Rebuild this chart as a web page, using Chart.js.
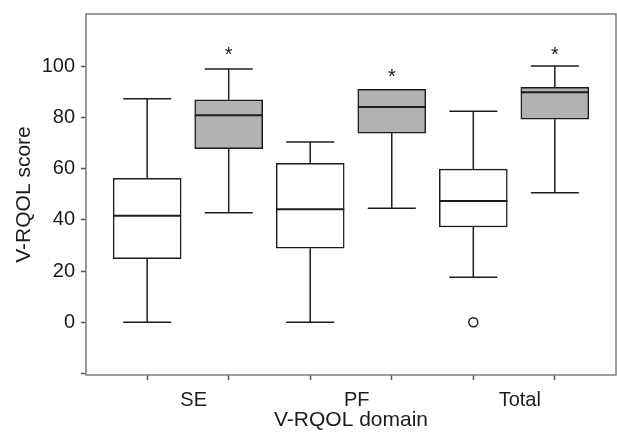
<!DOCTYPE html>
<html>
<head>
<meta charset="utf-8">
<script src="https://cdn.jsdelivr.net/npm/chart.js@4.4.1/dist/chart.umd.min.js"></script>
<style>
  html, body { margin: 0; padding: 0; background: #fff; }
  #wrap { width: 617px; height: 437px; position: relative; }
</style>
</head>
<body>
<div id="wrap"><canvas id="chart"></canvas></div>
<script>
// V-RQOL domains, baseline (white) vs follow-up (grey)
const domains = ['SE', 'PF', 'Total'];
const baselinePos = [0, 2, 4];
const followPos = [1, 3, 5];

const baselineMin = [0, 0, 17.6];
const baselineQ1 = [24.8, 28.9, 37.2];
const baselineMed = [41.6, 44.1, 47.4];
const baselineQ3 = [56.2, 62.1, 59.8];
const baselineMax = [87.3, 70.4, 82.4];
const baselineOutliers = [[], [], [0]];

const followMin = [42.8, 44.5, 50.6];
const followQ1 = [67.8, 73.9, 79.3];
const followMed = [80.9, 84.1, 89.8];
const followQ3 = [86.9, 91.0, 91.8];
const followMax = [98.9, 91.0, 100.1];
const starAt = [107, 98.2, 107];

const yTicks = [-20, 0, 20, 40, 60, 80, 100];
const xTickMarks = [0, 1, 2, 3, 4, 5];
const xLabelAt = [0.57, 2.57, 4.57];

const FONT = "'Liberation Sans', Arial, Helvetica, sans-serif";
const LINE = '#1c1c1c';
const FRAME = '#7d7d7d';
const GREY = '#b2b2b2';
const BOX_W = 68;
const CAP_W = 48;

const boxParts = {
  id: 'boxParts',
  afterDatasetsDraw(chart) {
    const { ctx, scales: { x, y } } = chart;
    const seg = (x1, y1, x2, y2) => {
      ctx.beginPath(); ctx.moveTo(x1, y1); ctx.lineTo(x2, y2); ctx.stroke();
    };
    const groups = [
      { pos: baselinePos, min: baselineMin, q1: baselineQ1, med: baselineMed, q3: baselineQ3, max: baselineMax },
      { pos: followPos, min: followMin, q1: followQ1, med: followMed, q3: followQ3, max: followMax },
    ];
    ctx.save();
    ctx.strokeStyle = LINE;
    groups.forEach(g => g.pos.forEach((p, i) => {
      const px = x.getPixelForValue(p);
      ctx.lineWidth = 1.5;
      if (g.max[i] > g.q3[i]) {
        seg(px, y.getPixelForValue(g.q3[i]), px, y.getPixelForValue(g.max[i]));
        seg(px - CAP_W / 2, y.getPixelForValue(g.max[i]), px + CAP_W / 2, y.getPixelForValue(g.max[i]));
      }
      if (g.min[i] < g.q1[i]) {
        seg(px, y.getPixelForValue(g.q1[i]), px, y.getPixelForValue(g.min[i]));
        seg(px - CAP_W / 2, y.getPixelForValue(g.min[i]), px + CAP_W / 2, y.getPixelForValue(g.min[i]));
      }
      ctx.lineWidth = 2;
      seg(px - BOX_W / 2, y.getPixelForValue(g.med[i]), px + BOX_W / 2, y.getPixelForValue(g.med[i]));
    }));
    // significance stars
    ctx.fillStyle = LINE;
    ctx.font = '20px ' + FONT;
    ctx.textAlign = 'center';
    ctx.textBaseline = 'alphabetic';
    followPos.forEach((p, i) => {
      ctx.fillText('*', x.getPixelForValue(p), y.getPixelForValue(starAt[i]) + 12.5);
    });
    // frame
    const a = chart.chartArea;
    ctx.strokeStyle = FRAME;
    ctx.lineWidth = 1.5;
    ctx.strokeRect(a.left, a.top, a.right - a.left, a.bottom - a.top);
    ctx.restore();
  }
};

const outlierPts = [];
baselineOutliers.forEach((list, i) => list.forEach(v => outlierPts.push({ x: baselinePos[i], y: v })));

new Chart(document.getElementById('chart'), {
  type: 'bar',
  data: {
    datasets: [
      {
        label: 'Baseline',
        data: domains.map((_, i) => ({ x: baselinePos[i], y: [baselineQ1[i], baselineQ3[i]] })),
        backgroundColor: '#ffffff',
        borderColor: LINE,
        borderWidth: 1.5,
        borderSkipped: false,
        barThickness: BOX_W,
        grouped: false,
      },
      {
        label: 'Follow-up',
        data: domains.map((_, i) => ({ x: followPos[i], y: [followQ1[i], followQ3[i]] })),
        backgroundColor: GREY,
        borderColor: LINE,
        borderWidth: 1.5,
        borderSkipped: false,
        barThickness: BOX_W,
        grouped: false,
      },
      {
        type: 'scatter',
        label: 'Outliers',
        data: outlierPts,
        pointStyle: 'circle',
        pointRadius: 4.5,
        backgroundColor: '#fff',
        borderColor: LINE,
        borderWidth: 1.5,
      }
    ]
  },
  options: {
    responsive: true,
    maintainAspectRatio: false,
    animation: false,
    layout: { autoPadding: false, padding: { top: 14, right: 1, left: 0, bottom: 0 } },
    scales: {
      x: {
        type: 'linear',
        min: -0.75,
        max: 5.75,
        offset: false,
        afterBuildTicks: s => {
          s.ticks = xTickMarks.concat(xLabelAt).sort((a, b) => a - b).map(v => ({ value: v }));
        },
        afterFit: s => { s.height = 62; s.paddingLeft = 0; s.paddingRight = 0; },
        ticks: {
          autoSkip: false,
          maxRotation: 0,
          padding: 8,
          color: LINE,
          font: { family: FONT, size: 20 },
          callback: v => {
            const k = xLabelAt.indexOf(v);
            return k >= 0 ? domains[k] : '';
          }
        },
        grid: {
          offset: false,
          drawOnChartArea: false,
          tickLength: 5,
          tickWidth: 1.5,
          tickColor: c => (c.tick && !xTickMarks.includes(c.tick.value)) ? 'rgba(0,0,0,0)' : '#555'
        },
        border: { display: false },
        title: {
          display: true,
          text: 'V-RQOL domain',
          color: LINE,
          font: { family: FONT, size: 21 },
          padding: { top: 0, bottom: 4 }
        }
      },
      y: {
        min: -20.6,
        max: 120.4,
        afterBuildTicks: s => { s.ticks = yTicks.map(v => ({ value: v })); },
        afterFit: s => { s.width = 86; s.paddingTop = 0; s.paddingBottom = 0; },
        ticks: {
          padding: 6,
          color: LINE,
          font: { family: FONT, size: 20 },
          callback: v => (v < 0 ? '' : v)
        },
        grid: {
          drawOnChartArea: false,
          tickLength: 5,
          tickWidth: 1.5,
          tickColor: '#555'
        },
        border: { display: false },
        title: {
          display: true,
          text: 'V-RQOL score',
          color: LINE,
          font: { family: FONT, size: 21 },
          padding: { top: 12, bottom: 0 }
        }
      }
    },
    plugins: {
      legend: { display: false },
      tooltip: { enabled: false }
    }
  },
  plugins: [boxParts]
});
</script>
</body>
</html>
